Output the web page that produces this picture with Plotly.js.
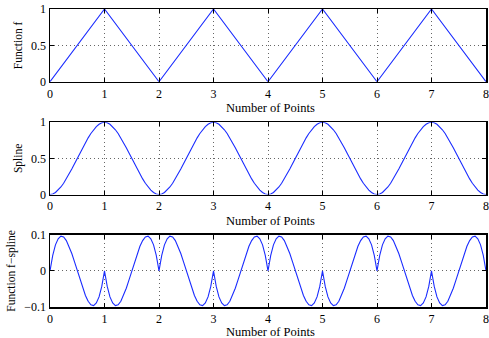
<!DOCTYPE html>
<html>
<head>
<meta charset="utf-8">
<script src="https://cdn.plot.ly/plotly-3.0.1.min.js"></script>
<style>
  html, body { margin: 0; padding: 0; background: #fff; }
  #chart { width: 489px; height: 338px; }
</style>
</head>
<body>
<div id="chart"></div>
<script>
// Knots of the triangle function f
const knotX = [0, 1, 2, 3, 4, 5, 6, 7, 8];
const knotF = [0, 1, 0, 1, 0, 1, 0, 1, 0];

// Sample positions for the smooth curves (one row per unit interval)
const sampleX = [
  0.00, 0.05, 0.10, 0.15, 0.20, 0.25, 0.30, 0.35, 0.40, 0.45, 0.50, 0.55, 0.60, 0.65, 0.70, 0.75, 0.80, 0.85, 0.90, 0.95,
  1.00, 1.05, 1.10, 1.15, 1.20, 1.25, 1.30, 1.35, 1.40, 1.45, 1.50, 1.55, 1.60, 1.65, 1.70, 1.75, 1.80, 1.85, 1.90, 1.95,
  2.00, 2.05, 2.10, 2.15, 2.20, 2.25, 2.30, 2.35, 2.40, 2.45, 2.50, 2.55, 2.60, 2.65, 2.70, 2.75, 2.80, 2.85, 2.90, 2.95,
  3.00, 3.05, 3.10, 3.15, 3.20, 3.25, 3.30, 3.35, 3.40, 3.45, 3.50, 3.55, 3.60, 3.65, 3.70, 3.75, 3.80, 3.85, 3.90, 3.95,
  4.00, 4.05, 4.10, 4.15, 4.20, 4.25, 4.30, 4.35, 4.40, 4.45, 4.50, 4.55, 4.60, 4.65, 4.70, 4.75, 4.80, 4.85, 4.90, 4.95,
  5.00, 5.05, 5.10, 5.15, 5.20, 5.25, 5.30, 5.35, 5.40, 5.45, 5.50, 5.55, 5.60, 5.65, 5.70, 5.75, 5.80, 5.85, 5.90, 5.95,
  6.00, 6.05, 6.10, 6.15, 6.20, 6.25, 6.30, 6.35, 6.40, 6.45, 6.50, 6.55, 6.60, 6.65, 6.70, 6.75, 6.80, 6.85, 6.90, 6.95,
  7.00, 7.05, 7.10, 7.15, 7.20, 7.25, 7.30, 7.35, 7.40, 7.45, 7.50, 7.55, 7.60, 7.65, 7.70, 7.75, 7.80, 7.85, 7.90, 7.95,
  8.00
];

// Cubic spline through the knots
const splineY = [
  0.000, 0.007, 0.028, 0.061, 0.104, 0.156, 0.216, 0.282, 0.352, 0.425, 0.500, 0.575, 0.648, 0.718, 0.784, 0.844, 0.896, 0.939, 0.972, 0.993,
  1.000, 0.993, 0.972, 0.939, 0.896, 0.844, 0.784, 0.718, 0.648, 0.575, 0.500, 0.425, 0.352, 0.282, 0.216, 0.156, 0.104, 0.061, 0.028, 0.007,
  0.000, 0.007, 0.028, 0.061, 0.104, 0.156, 0.216, 0.282, 0.352, 0.425, 0.500, 0.575, 0.648, 0.718, 0.784, 0.844, 0.896, 0.939, 0.972, 0.993,
  1.000, 0.993, 0.972, 0.939, 0.896, 0.844, 0.784, 0.718, 0.648, 0.575, 0.500, 0.425, 0.352, 0.282, 0.216, 0.156, 0.104, 0.061, 0.028, 0.007,
  0.000, 0.007, 0.028, 0.061, 0.104, 0.156, 0.216, 0.282, 0.352, 0.425, 0.500, 0.575, 0.648, 0.718, 0.784, 0.844, 0.896, 0.939, 0.972, 0.993,
  1.000, 0.993, 0.972, 0.939, 0.896, 0.844, 0.784, 0.718, 0.648, 0.575, 0.500, 0.425, 0.352, 0.282, 0.216, 0.156, 0.104, 0.061, 0.028, 0.007,
  0.000, 0.007, 0.028, 0.061, 0.104, 0.156, 0.216, 0.282, 0.352, 0.425, 0.500, 0.575, 0.648, 0.718, 0.784, 0.844, 0.896, 0.939, 0.972, 0.993,
  1.000, 0.993, 0.972, 0.939, 0.896, 0.844, 0.784, 0.718, 0.648, 0.575, 0.500, 0.425, 0.352, 0.282, 0.216, 0.156, 0.104, 0.061, 0.028, 0.007,
  0.000
];

// Difference f - spline
const diffY = [
   0.000,  0.043,  0.072,  0.089,  0.096,  0.094,  0.084,  0.068,  0.048,  0.025,  0.000, -0.025, -0.048, -0.068, -0.084, -0.094, -0.096, -0.089, -0.072, -0.043,
   0.000, -0.043, -0.072, -0.089, -0.096, -0.094, -0.084, -0.068, -0.048, -0.025,  0.000,  0.025,  0.048,  0.068,  0.084,  0.094,  0.096,  0.089,  0.072,  0.043,
   0.000,  0.043,  0.072,  0.089,  0.096,  0.094,  0.084,  0.068,  0.048,  0.025,  0.000, -0.025, -0.048, -0.068, -0.084, -0.094, -0.096, -0.089, -0.072, -0.043,
   0.000, -0.043, -0.072, -0.089, -0.096, -0.094, -0.084, -0.068, -0.048, -0.025,  0.000,  0.025,  0.048,  0.068,  0.084,  0.094,  0.096,  0.089,  0.072,  0.043,
   0.000,  0.043,  0.072,  0.089,  0.096,  0.094,  0.084,  0.068,  0.048,  0.025,  0.000, -0.025, -0.048, -0.068, -0.084, -0.094, -0.096, -0.089, -0.072, -0.043,
   0.000, -0.043, -0.072, -0.089, -0.096, -0.094, -0.084, -0.068, -0.048, -0.025,  0.000,  0.025,  0.048,  0.068,  0.084,  0.094,  0.096,  0.089,  0.072,  0.043,
   0.000,  0.043,  0.072,  0.089,  0.096,  0.094,  0.084,  0.068,  0.048,  0.025,  0.000, -0.025, -0.048, -0.068, -0.084, -0.094, -0.096, -0.089, -0.072, -0.043,
   0.000, -0.043, -0.072, -0.089, -0.096, -0.094, -0.084, -0.068, -0.048, -0.025,  0.000,  0.025,  0.048,  0.068,  0.084,  0.094,  0.096,  0.089,  0.072,  0.043,
   0.000
];

const xTicks = [0, 1, 2, 3, 4, 5, 6, 7, 8];
const yTicksTop = [0, 0.5, 1];
const yTicksBottom = [-0.1, 0, 0.1];
const xLabel = 'Number of Points';

const lineStyle = { color: '#1a2cff', width: 1.1 };
const serif = 'Times New Roman';
const tickFont = { family: serif, size: 12, color: '#000' };
const xTitleFont = { family: serif, size: 12.5, color: '#000' };
const yTitleFont = { family: serif, size: 11.5, color: '#000' };

function xAxis(anchor) {
  return {
    anchor: anchor,
    domain: [0, 1],
    range: [0, 8],
    tickvals: xTicks,
    ticktext: xTicks.map(String),
    ticks: 'inside', ticklen: 4, tickcolor: '#000',
    showline: true, mirror: 'ticks', linecolor: '#000', linewidth: 1.5,
    showgrid: true, gridcolor: '#666', griddash: '1px,3px', gridwidth: 1,
    zeroline: false,
    tickfont: tickFont,
    ticklabeloverflow: 'allow',
    automargin: false
  };
}

function yAxis(anchor, domain, range, ticks, label, standoff) {
  return {
    anchor: anchor,
    domain: domain,
    range: range,
    tickvals: ticks,
    ticktext: ticks.map(v => v < 0 ? '\u2212' + String(-v) : String(v)),
    ticks: 'inside', ticklen: 4, tickcolor: '#000',
    showline: true, mirror: 'ticks', linecolor: '#000', linewidth: 1.5,
    showgrid: true, gridcolor: '#666', griddash: '1px,3px', gridwidth: 1,
    zeroline: false,
    tickfont: tickFont,
    ticklabeloverflow: 'allow',
    title: { text: label, font: yTitleFont, standoff: standoff },
    automargin: false
  };
}

// x-axis titles placed just below each panel's tick labels
function xTitle(yPaper) {
  return {
    text: xLabel, font: xTitleFont, showarrow: false,
    xref: 'paper', yref: 'paper', x: 0.505, y: yPaper,
    xanchor: 'center', yanchor: 'middle'
  };
}

const data = [
  { x: knotX, y: knotF, xaxis: 'x', yaxis: 'y', mode: 'lines', line: lineStyle, hoverinfo: 'skip' },
  { x: sampleX, y: splineY, xaxis: 'x2', yaxis: 'y2', mode: 'lines', line: lineStyle, hoverinfo: 'skip' },
  { x: sampleX, y: diffY, xaxis: 'x3', yaxis: 'y3', mode: 'lines', line: lineStyle, hoverinfo: 'skip' }
];

const layout = {
  width: 489, height: 338,
  margin: { l: 50, r: 3, t: 9, b: 31 },
  paper_bgcolor: '#fff', plot_bgcolor: '#fff',
  showlegend: false,
  font: tickFont,
  xaxis: xAxis('y'),
  yaxis: yAxis('x', [0.756, 1], [0, 1], yTicksTop, 'Function f', 6),
  xaxis2: xAxis('y2'),
  yaxis2: yAxis('x2', [0.3775, 0.620], [0, 1], yTicksTop, 'Spline', 6),
  xaxis3: xAxis('y3'),
  yaxis3: yAxis('x3', [0, 0.2424], [-0.1, 0.1], yTicksBottom, 'Function f\u2212spline', 6),
  annotations: [xTitle(0.668), xTitle(0.290), xTitle(-0.083)]
};

Plotly.newPlot('chart', data, layout, { staticPlot: true, displayModeBar: false });
</script>
</body>
</html>
